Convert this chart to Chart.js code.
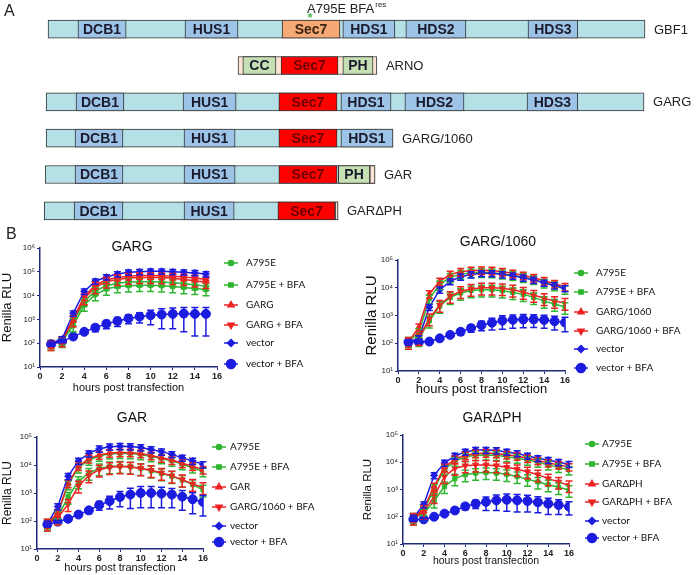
<!DOCTYPE html>
<html>
<head>
<meta charset="utf-8">
<script src="https://cdn.jsdelivr.net/npm/chart.js@4.4.1/dist/chart.umd.min.js"></script>
<style>
  body { margin: 0; background: #fff; }
  #wrap { position: relative; width: 696px; height: 575px; overflow: hidden; font-family: Arial, "Liberation Sans", sans-serif; }
  canvas { position: absolute; }
  .panel { position: absolute; font-size: 16px; line-height: 16px; color: #222; }
</style>
</head>
<body>
<div id="wrap">
  <canvas id="domains" width="696" height="232" style="left:0;top:0"></canvas>
  <canvas id="c1" width="348" height="170" style="left:0;top:232px"></canvas>
  <canvas id="c2" width="348" height="170" style="left:348px;top:232px"></canvas>
  <canvas id="c3" width="348" height="173" style="left:0;top:402px"></canvas>
  <canvas id="c4" width="348" height="173" style="left:348px;top:402px"></canvas>
  <div class="panel" style="left:4px;top:3px">A</div>
  <div class="panel" style="left:6px;top:226px">B</div>
</div>
<script>
// ---------- panel A: domain maps (GBF1-like residue scale) ----------
const constructs = ['GBF1', 'ARNO', 'GARG', 'GARG/1060', 'GAR', 'GAR\u0394PH'];
const backbone = [[0, 1857], null, [-6, 1854], [-6, 1073], [-9, 1017], [-12, 902]];
const linker   = [null, [591, 1023], null, null, [1001, 1017], [893, 902]];
const dcb1 = [[93, 243], null, [87, 236], [84, 233], [84, 233], [81, 233]];
const hus1 = [[426, 591], null, [420, 585], [423, 582], [423, 582], [423, 579]];
const sec7 = [[728, 908], [725, 902], [718, 899], [718, 899], [718, 899], [715, 893]];
const hds1 = [[917, 1079], null, [911, 1067], [911, 1073], null, null];
const hds2 = [[1113, 1300], null, [1110, 1294], null, null, null];
const hds3 = [[1493, 1648], null, [1490, 1648], null, null, null];
const cc   = [null, [606, 709], null, null, null, null];
const ph   = [null, [917, 1011], null, null, [903, 1001], null];
const mutationPos = 815;

// ---------- panel B: Renilla RLU time courses ----------
const hours15 = [1, 2, 3, 4, 5, 6, 7, 8, 9, 10, 11, 12, 13, 14, 15];
const hours16 = [1, 2, 3, 4, 5, 6, 7, 8, 9, 10, 11, 12, 13, 14, 15, 16];

const garg_A795E    = [90, 130, 800, 5500, 16000, 26000, 33000, 37000, 38000, 38000, 37000, 35000, 32000, 28000, 25000];
const garg_A795EBFA = [90, 120, 550, 4000, 11000, 19000, 24000, 26000, 27000, 27000, 26000, 24000, 22000, 20000, 18000];
const garg_GARG     = [90, 140, 1100, 9000, 28000, 45000, 58000, 65000, 70000, 70000, 68000, 65000, 60000, 55000, 48000];
const garg_GARGBFA  = [90, 130, 900, 7500, 22000, 38000, 48000, 55000, 58000, 58000, 57000, 53000, 48000, 42000, 36000];
const garg_vector   = [100, 150, 1800, 15000, 40000, 60000, 80000, 95000, 100000, 105000, 105000, 100000, 95000, 90000, 80000];
const garg_vecBFA   = [90, 120, 190, 300, 450, 650, 850, 1100, 1300, 1500, 1600, 1700, 1750, 1700, 1700];
const garg_vecBFAsd = [10, 15, 20, 40, 150, 250, 350, 450, 600, 900, 1200, 1300, 1450, 1500, 1500];

const g1060_A795E    = [110, 250, 4000, 13000, 24000, 31000, 35000, 36000, 35000, 32000, 28000, 24000, 20000, 15000, 12000, 9000];
const g1060_A795EBFA = [110, 140, 650, 2200, 4500, 6500, 8000, 8500, 8500, 7800, 6800, 5800, 4500, 3300, 2600, 2000];
const g1060_G1060    = [110, 380, 6000, 17000, 30000, 38000, 42000, 43000, 42000, 38000, 33000, 28000, 23000, 18000, 14000, 11000];
const g1060_G1060BFA = [110, 150, 780, 2400, 5000, 7500, 9000, 10000, 10000, 9500, 8500, 7000, 5500, 4200, 3300, 2800];
const g1060_vector   = [110, 150, 2000, 8500, 17000, 25000, 30000, 33000, 33000, 30000, 27000, 23000, 19000, 15000, 12000, 9500];
const g1060_vecBFA   = [110, 110, 115, 150, 200, 260, 350, 450, 550, 650, 700, 720, 720, 690, 620, 560];
const g1060_vecBFAsd = [10, 10, 10, 20, 30, 60, 100, 170, 250, 330, 350, 360, 350, 340, 320, 300];

const gar_A795E    = [80, 180, 2000, 8000, 15000, 21000, 25000, 26000, 25500, 23500, 20000, 17000, 14000, 10500, 8000, 5800];
const gar_A795EBFA = [80, 140, 720, 2600, 5200, 7500, 8800, 9200, 8700, 7600, 6200, 5000, 4000, 2900, 2000, 1300];
const gar_GAR      = [80, 200, 2200, 9000, 17000, 23000, 27000, 28000, 28000, 26000, 22000, 18000, 15000, 11500, 9000, 6800];
const gar_G1060BFA = [80, 130, 400, 1800, 4200, 6800, 8300, 8800, 8500, 7500, 6500, 5200, 4100, 3000, 2100, 1600];
const gar_vector   = [80, 330, 4000, 14000, 26000, 38000, 45000, 47000, 46000, 42000, 36000, 30000, 24000, 18000, 14000, 10500];
const gar_vecBFA   = [75, 95, 120, 170, 240, 370, 520, 720, 880, 1000, 1000, 950, 880, 740, 600, 480];
const gar_vecBFAsd = [8, 10, 15, 25, 60, 130, 250, 400, 600, 700, 700, 650, 580, 500, 420, 330];

const dph_A795E    = [90, 170, 1100, 5500, 11000, 16000, 18000, 18500, 18000, 16000, 14000, 12000, 10000, 8000, 6500, 5200];
const dph_A795EBFA = [90, 130, 380, 1300, 2500, 3500, 4000, 4200, 4000, 3600, 3000, 2400, 1900, 1500, 1200, 950];
const dph_GARdPH   = [90, 200, 1300, 6500, 13000, 18000, 21000, 22000, 21000, 19000, 17000, 14000, 11500, 9500, 8000, 6800];
const dph_GARdPHBFA= [90, 150, 560, 3000, 6000, 7500, 8000, 8000, 7500, 6500, 5500, 4500, 3500, 2500, 1900, 1400];
const dph_vector   = [90, 280, 3300, 9500, 17000, 24000, 28000, 28000, 27000, 24000, 21000, 17000, 14000, 12000, 10000, 8500];
const dph_vecBFA   = [80, 80, 100, 130, 170, 240, 300, 350, 400, 420, 400, 380, 340, 300, 270, 235];
const dph_vecBFAsd = [8, 8, 10, 15, 30, 60, 100, 180, 230, 260, 250, 230, 200, 180, 150, 120];

// relative SD read for the non-vector+BFA series (A795E, A795E+BFA, X, X+BFA, vector)
const relSD = [0.35, 0.45, 0.3, 0.45, 0.25];
const xTicks = [0, 2, 4, 6, 8, 10, 12, 14, 16];

// ---------- styles ----------
const GREEN = '#2fb52f', RED = '#ee2222', BLUE = '#1c1ce0', AXIS = '#1f2a7a';
const SUP = ['\u2070', '\u00b9', '\u00b2', '\u00b3', '\u2074', '\u2075', '\u2076'];
const seriesStyle = [
  { color: GREEN, pointStyle: 'circle', radius: 2.5, rotation: 0 },
  { color: GREEN, pointStyle: 'rect', radius: 3, rotation: 0 },
  { color: RED, pointStyle: 'triangle', radius: 3.5, rotation: 0 },
  { color: RED, pointStyle: 'triangle', radius: 3.5, rotation: 180 },
  { color: BLUE, pointStyle: 'rectRot', radius: 3.5, rotation: 0 },
  { color: BLUE, pointStyle: 'circle', radius: 4.5, rotation: 0 }
];

// ---------- panel A chart ----------
// lower "order" is painted on top, so the backbone goes underneath the domains
function domainSet(label, data, fill, text, order) {
  return {
    label: label, data: data, backgroundColor: fill, borderColor: '#333', borderWidth: 1,
    borderSkipped: false, grouped: false, barThickness: 18, clip: false, textColor: text, order: order
  };
}

const domainText = {
  id: 'domainText',
  afterDatasetsDraw(chart) {
    const ctx = chart.ctx;
    ctx.save();
    ctx.textBaseline = 'middle';
    ctx.textAlign = 'center';
    ctx.font = 'bold 14px Arial';
    chart.data.datasets.forEach((ds, di) => {
      if (!ds.textColor) return;
      chart.getDatasetMeta(di).data.forEach((bar, i) => {
        if (!ds.data[i]) return;
        ctx.fillStyle = Array.isArray(ds.textColor) ? ds.textColor[i] : ds.textColor;
        ctx.fillText(ds.label, (bar.x + bar.base) / 2, bar.y + 1);
      });
    });
    // construct names after each map
    ctx.textAlign = 'left';
    ctx.font = '13px Arial';
    ctx.fillStyle = '#222';
    chart.data.labels.forEach((name, i) => {
      let end = -Infinity, y = 0;
      chart.data.datasets.forEach((ds, di) => {
        if (!ds.data[i]) return;
        const bar = chart.getDatasetMeta(di).data[i];
        end = Math.max(end, bar.x, bar.base);
        y = bar.y;
      });
      ctx.fillText(name, end + 9, y + 1);
    });
    // mutation mark on GBF1
    const mx = chart.scales.x.getPixelForValue(mutationPos);
    ctx.fillStyle = '#3cb44b';
    ctx.font = 'bold 12px Arial';
    ctx.textAlign = 'center';
    ctx.fillText('*', mx, 19);
    ctx.fillStyle = '#222';
    ctx.textAlign = 'left';
    ctx.font = '13px Arial';
    ctx.fillText('A795E BFA', mx - 3, 9);
    const w = ctx.measureText('A795E BFA').width;
    ctx.font = '8px Arial';
    ctx.fillText('res', mx - 3 + w + 1, 5);
    ctx.restore();
  }
};

new Chart(document.getElementById('domains'), {
  type: 'bar',
  data: {
    labels: constructs,
    datasets: [
      domainSet('', backbone, '#b5e0e5', null, 3),
      domainSet('', linker, '#fbe4d5', null, 2),
      domainSet('DCB1', dcb1, '#9dc3e6', '#1b1b2e', 1),
      domainSet('HUS1', hus1, '#9dc3e6', '#1b1b2e', 1),
      domainSet('Sec7', sec7, ['#f4a977', '#ff0000', '#ff0000', '#ff0000', '#ff0000', '#ff0000'],
        ['#3a2410', '#6a0000', '#6a0000', '#6a0000', '#6a0000', '#6a0000'], 1),
      domainSet('HDS1', hds1, '#9dc3e6', '#1b1b2e', 1),
      domainSet('HDS2', hds2, '#9dc3e6', '#1b1b2e', 1),
      domainSet('HDS3', hds3, '#9dc3e6', '#1b1b2e', 1),
      domainSet('CC', cc, '#c5e0b3', '#1b1b2e', 1),
      domainSet('PH', ph, '#c5e0b3', '#1b1b2e', 1)
    ]
  },
  options: {
    indexAxis: 'y',
    responsive: false,
    animation: false,
    layout: { padding: { left: 38.4, right: 51, top: 11, bottom: 3 } },
    scales: {
      x: { type: 'linear', min: -30, max: 1857, display: false },
      y: { display: false, offset: true }
    },
    plugins: { legend: { display: false }, tooltip: { enabled: false } }
  },
  plugins: [domainText]
});

// ---------- panel B charts ----------
const errorBars = {
  id: 'errorBars',
  afterDatasetsDraw(chart) {
    const ctx = chart.ctx, ys = chart.scales.y, xs = chart.scales.x;
    ctx.save();
    ctx.lineWidth = 1.5;
    chart.data.datasets.forEach((ds) => {
      ctx.strokeStyle = ds.borderColor;
      ds.data.forEach((p, i) => {
        const sd = ds.sd ? ds.sd[i] : p.y * ds.cv;
        const x = xs.getPixelForValue(p.x);
        const yHi = ys.getPixelForValue(p.y + sd);
        const yLo = ys.getPixelForValue(Math.max(p.y - sd, ys.min));
        ctx.beginPath();
        ctx.moveTo(x, yHi); ctx.lineTo(x, yLo);
        ctx.moveTo(x - 3.5, yHi); ctx.lineTo(x + 3.5, yHi);
        ctx.moveTo(x - 3.5, yLo); ctx.lineTo(x + 3.5, yLo);
        ctx.stroke();
      });
    });
    ctx.restore();
  }
};

const legendAndTitle = {
  id: 'legendAndTitle',
  afterDraw(chart) {
    const o = chart.options.plugins.legendAndTitle;
    const ctx = chart.ctx;
    ctx.save();
    ctx.fillStyle = '#111';
    ctx.font = '14px Arial';
    ctx.textAlign = 'center';
    ctx.textBaseline = 'middle';
    ctx.fillText(o.title, o.titleX, o.titleY);
    chart.data.datasets.forEach((ds, i) => {
      const st = seriesStyle[i], y = o.ys[i];
      ctx.strokeStyle = st.color;
      ctx.fillStyle = st.color;
      ctx.lineWidth = 1.5;
      ctx.beginPath();
      ctx.moveTo(o.mx - 7, y); ctx.lineTo(o.mx + 7, y);
      ctx.stroke();
      Chart.helpers.drawPoint(ctx, { pointStyle: st.pointStyle, radius: st.radius, rotation: st.rotation, borderWidth: 1 }, o.mx, y);
      ctx.fillStyle = '#111';
      ctx.font = '10px Lato, "Open Sans", Arial';
      ctx.textAlign = 'left';
      ctx.fillText(ds.label, o.tx, y);
    });
    ctx.restore();
  }
};

function timeCourse(id, p) {
  const yTicks = [];
  for (let v = 10; v <= p.yMax; v *= 10) yTicks.push(v);
  const datasets = p.series.map((vals, i) => {
    const st = seriesStyle[i];
    return {
      label: p.names[i],
      data: p.hours.map((h, k) => ({ x: h, y: vals[k] })),
      borderColor: st.color, backgroundColor: st.color,
      borderWidth: 1.5, tension: 0, fill: false, order: 6 - i,
      pointStyle: st.pointStyle, pointRadius: st.radius, pointRotation: st.rotation, pointBorderWidth: 1,
      sd: i === 5 ? p.sd : null, cv: i < 5 ? relSD[i] : 0
    };
  });
  return new Chart(document.getElementById(id), {
    type: 'line',
    data: { datasets: datasets },
    options: {
      responsive: false,
      animation: false,
      layout: { padding: p.pad },
      scales: {
        x: {
          type: 'linear', min: 0, max: 16,
          afterBuildTicks: (a) => { a.ticks = xTicks.map(v => ({ value: v })); },
          afterFit: (s) => { s.height = p.xH; },
          border: { color: AXIS, width: 1.5 },
          grid: { drawOnChartArea: false, tickLength: 3, color: AXIS },
          ticks: { padding: 1, color: '#222', font: { family: 'Arial', size: 9, weight: 'bold' } },
          title: { display: true, text: 'hours post transfection', color: '#111', padding: 0, font: { family: 'Arial', size: p.xTitle } }
        },
        y: {
          type: 'logarithmic', min: 10, max: p.yMax,
          afterBuildTicks: (a) => { a.ticks = yTicks.map(v => ({ value: v })); },
          afterFit: (s) => { s.width = p.yW; },
          border: { color: AXIS, width: 1.5 },
          grid: { drawOnChartArea: false, tickLength: 3, color: AXIS },
          ticks: { padding: 2, color: '#222', font: { family: 'Arial', size: 8 }, callback: (v) => '10' + SUP[Math.round(Math.log10(v))] },
          title: { display: true, text: 'Renilla RLU', color: '#111', padding: 0, font: { family: 'Arial', size: p.yTitle } }
        }
      },
      plugins: {
        legend: { display: false },
        tooltip: { enabled: false },
        legendAndTitle: { title: p.title, titleX: p.titleX, titleY: p.titleY, mx: p.mx, tx: p.tx, ys: p.ys }
      }
    },
    plugins: [errorBars, legendAndTitle]
  });
}

timeCourse('c1', {
  title: 'GARG', titleX: 132, titleY: 15, yMax: 1e6, hours: hours15,
  series: [garg_A795E, garg_A795EBFA, garg_GARG, garg_GARGBFA, garg_vector, garg_vecBFA], sd: garg_vecBFAsd,
  names: ['A795E', 'A795E + BFA', 'GARG', 'GARG + BFA', 'vector', 'vector + BFA'],
  pad: { left: 0, right: 131, top: 16, bottom: 7 }, yW: 40, xH: 28, yTitle: 13, xTitle: 11,
  mx: 231, tx: 246, ys: [31, 53, 73, 93, 111, 132]
});
timeCourse('c2', {
  title: 'GARG/1060', titleX: 150, titleY: 10, yMax: 1e5, hours: hours16,
  series: [g1060_A795E, g1060_A795EBFA, g1060_G1060, g1060_G1060BFA, g1060_vector, g1060_vecBFA], sd: g1060_vecBFAsd,
  names: ['A795E', 'A795E + BFA', 'GARG/1060', 'GARG/1060 + BFA', 'vector', 'vector + BFA'],
  pad: { left: 15, right: 131, top: 28, bottom: 5 }, yW: 35, xH: 26, yTitle: 15, xTitle: 13,
  mx: 233, tx: 248, ys: [41, 60, 80, 99, 117, 136]
});
timeCourse('c3', {
  title: 'GAR', titleX: 132, titleY: 16, yMax: 1e5, hours: hours16,
  series: [gar_A795E, gar_A795EBFA, gar_GAR, gar_G1060BFA, gar_vector, gar_vecBFA], sd: gar_vecBFAsd,
  names: ['A795E', 'A795E + BFA', 'GAR', 'GARG/1060 + BFA', 'vector', 'vector + BFA'],
  pad: { left: 0, right: 145, top: 35, bottom: 0 }, yW: 37, xH: 26, yTitle: 12, xTitle: 11,
  mx: 219, tx: 230, ys: [45, 65, 85, 105, 124, 140]
});
timeCourse('c4', {
  title: 'GAR\u0394PH', titleX: 144, titleY: 16, yMax: 1e5, hours: hours16,
  series: [dph_A795E, dph_A795EBFA, dph_GARdPH, dph_GARdPHBFA, dph_vector, dph_vecBFA], sd: dph_vecBFAsd,
  names: ['A795E', 'A795E + BFA', 'GAR\u0394PH', 'GAR\u0394PH + BFA', 'vector', 'vector + BFA'],
  pad: { left: 13, right: 127, top: 33, bottom: 8 }, yW: 42, xH: 23, yTitle: 11.5, xTitle: 10.5,
  mx: 244, tx: 254, ys: [42, 62, 82, 100, 119, 136]
});
</script>
</body>
</html>
